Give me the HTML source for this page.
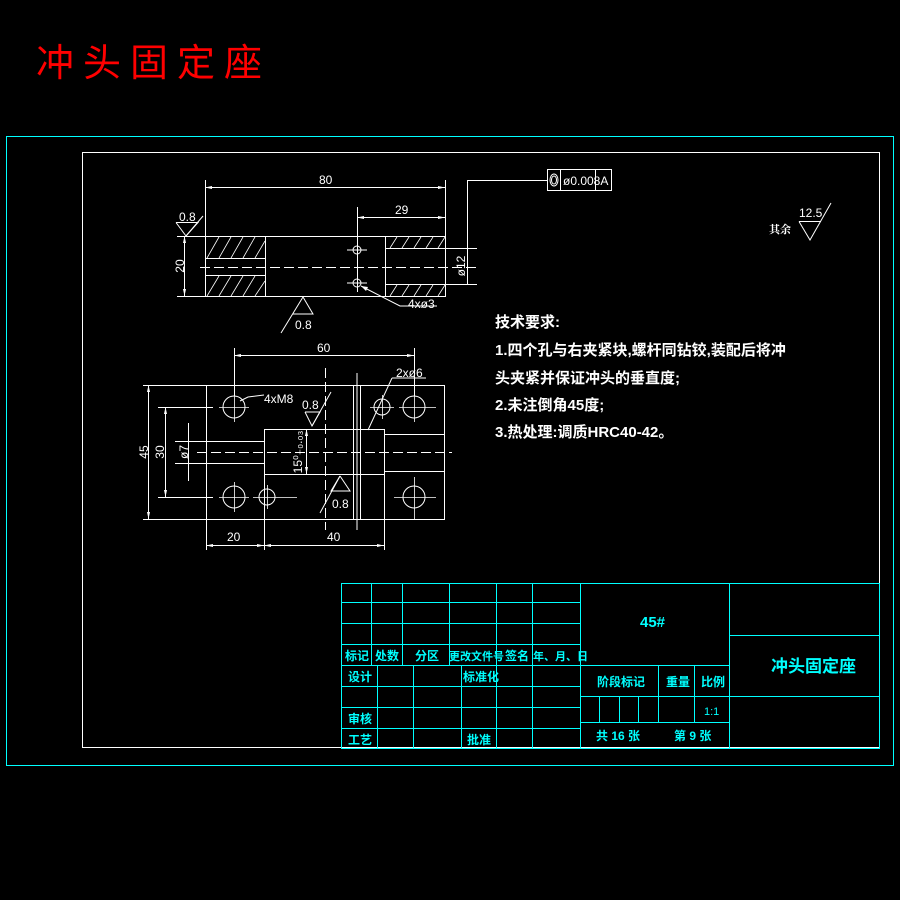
<!DOCTYPE html>
<html><head><meta charset="utf-8"><style>
html,body{margin:0;padding:0;background:#000;}
svg{display:block;}
text{font-family:"Liberation Sans","Noto Sans CJK SC",sans-serif;}
.w{stroke:#fff;stroke-width:1;fill:none;}
.c{stroke:#0ff;stroke-width:1;fill:none;}
.t{fill:#fff;font-size:12px;}
.ct{fill:#0ff;font-family:"Liberation Serif","Noto Serif CJK SC",serif;font-weight:bold;font-size:12px;}
</style></head><body>
<svg width="900" height="900" viewBox="0 0 900 900" xmlns="http://www.w3.org/2000/svg">
<text x="36" y="76" fill="#f00" font-size="38" letter-spacing="9" style="font-family:'Liberation Sans','Noto Sans CJK SC',sans-serif">冲头固定座</text>
<rect x="6.5" y="136.5" width="887" height="629" class="c"/>
<rect x="82.5" y="152.5" width="797" height="595" class="w" stroke-width="0.8"/>

<!-- TOP VIEW -->
<g class="w">
<rect x="205.5" y="236.5" width="240" height="60"/>
<line x1="265.5" y1="236" x2="265.5" y2="297"/>
<line x1="385.5" y1="236" x2="385.5" y2="297"/>
<line x1="205" y1="258.5" x2="265" y2="258.5"/>
<line x1="205" y1="275.5" x2="265" y2="275.5"/>
<line x1="385" y1="248.5" x2="477" y2="248.5"/>
<line x1="385" y1="284.5" x2="477" y2="284.5"/>
<line x1="200" y1="267.5" x2="477" y2="267.5" stroke-dasharray="10,4"/>
<!-- hatches -->
<g stroke-width="0.8">
<path d="M207,258 L219,237 M219,258 L231,237 M231,258 L243,237 M243,258 L255,237 M255,258 L265,241"/>
<path d="M207,296 L219,276 M219,296 L231,276 M231,296 L243,276 M243,296 L255,276 M255,296 L265,281"/>
<path d="M390,248 L397,237 M402,248 L409,237 M414,248 L421,237 M426,248 L433,237 M438,248 L445,237"/>
<path d="M390,296 L397,285 M402,296 L409,285 M414,296 L421,285 M426,296 L433,285 M438,296 L445,285"/>
</g>
<circle cx="357" cy="250" r="4"/><circle cx="357" cy="283" r="4"/>
<line x1="347" y1="250" x2="367" y2="250"/><line x1="347" y1="283" x2="367" y2="283"/>
<line x1="357.5" y1="207" x2="357.5" y2="292"/>
<!-- 80 -->
<line x1="205.5" y1="180" x2="205.5" y2="236"/><line x1="445.5" y1="180" x2="445.5" y2="236"/>
<line x1="205" y1="187.5" x2="445" y2="187.5"/>
<line x1="357" y1="217.5" x2="445" y2="217.5"/>
<!-- 20 -->
<line x1="177" y1="236.5" x2="205" y2="236.5"/><line x1="177" y1="296.5" x2="205" y2="296.5"/>
<line x1="184.5" y1="236" x2="184.5" y2="296"/>
<!-- phi12 -->
<line x1="467.5" y1="181" x2="467.5" y2="284"/>
<polyline points="467.5,181 467.5,180.5 547,180.5"/>
<!-- 0.8 top-left -->
<polyline points="176,222.5 198,222.5 186,236 176,222.5"/>
<line x1="186" y1="236" x2="203" y2="216"/>
<line x1="176" y1="222.5" x2="198" y2="222.5"/>
<!-- bottom 0.8 -->
<polyline points="303,297 313,314 293,314"/>
<line x1="303" y1="297" x2="281" y2="333"/>
<!-- 4x03 leader -->
<polyline points="361,286 400,306 437,306"/>
<!-- fcf box -->
<rect x="547.5" y="169.5" width="64" height="21"/>
<line x1="560.5" y1="169" x2="560.5" y2="191"/><line x1="595.5" y1="169" x2="595.5" y2="191"/>
<ellipse cx="554" cy="180" rx="4" ry="6"/><ellipse cx="554" cy="180" rx="2.5" ry="4"/>
<!-- 12.5 -->
<line x1="799" y1="221.5" x2="821" y2="221.5"/>
<polyline points="799,221.5 810,240 831,203"/>
</g>
<g fill="#fff">
<polygon points="205,187.5 212,186 212,189"/><polygon points="445,187.5 438,186 438,189"/>
<polygon points="357,217.5 364,216 364,219"/><polygon points="445,217.5 438,216 438,219"/>
<polygon points="184.5,236 183,243 186,243"/><polygon points="184.5,296 183,289 186,289"/>
<polygon points="361,286 368,287 366,291"/>
</g>
<text class="t" x="319" y="184">80</text>
<text class="t" x="395" y="214">29</text>
<text class="t" x="179" y="221" font-size="11">0.8</text>
<text class="t" x="295" y="329" font-size="11">0.8</text>
<text class="t" x="408" y="308" font-size="11">4xø3</text>
<text class="t" x="180" y="266" font-size="11" transform="rotate(-90 180 266)" text-anchor="middle" dy="4">20</text>
<text class="t" x="461" y="266" font-size="11" transform="rotate(-90 461 266)" text-anchor="middle" dy="4">ø12</text>
<text class="t" x="563" y="185" font-size="11">ø0.008A</text>
<text class="t" x="799" y="217" font-size="11">12.5</text>
<text x="769" y="233" fill="#fff" font-size="11" style="font-family:'Liberation Serif','Noto Serif CJK SC',serif;font-weight:bold">其余</text>

<!-- FRONT VIEW -->
<g class="w">
<rect x="206.5" y="385.5" width="238" height="134"/>
<rect x="264.5" y="429.5" width="120" height="45"/>
<line x1="264.5" y1="474" x2="264.5" y2="550"/>
<line x1="384.5" y1="474" x2="384.5" y2="550"/>
<line x1="384" y1="434.5" x2="444" y2="434.5"/>
<line x1="384" y1="471.5" x2="444" y2="471.5"/>
<rect x="353.5" y="385.5" width="7" height="134"/>
<line x1="357" y1="373" x2="357" y2="530"/>
<circle cx="234" cy="407" r="11"/><circle cx="234" cy="497" r="11"/>
<circle cx="414" cy="407" r="11"/><circle cx="414" cy="497" r="11"/>
<circle cx="382" cy="407" r="8"/><circle cx="267" cy="497" r="8"/>
<g stroke-width="0.8">
<line x1="219" y1="407.5" x2="249" y2="407.5"/><line x1="234.5" y1="392" x2="234.5" y2="422"/>
<line x1="219" y1="497.5" x2="249" y2="497.5"/><line x1="234.5" y1="482" x2="234.5" y2="512"/>
<line x1="399" y1="407.5" x2="436" y2="407.5"/><line x1="414.5" y1="392" x2="414.5" y2="422"/>
<line x1="394" y1="497.5" x2="436" y2="497.5"/><line x1="414.5" y1="477" x2="414.5" y2="519"/>
<line x1="370" y1="407.5" x2="394" y2="407.5"/><line x1="382.5" y1="395" x2="382.5" y2="419"/>
<line x1="253" y1="497.5" x2="297" y2="497.5"/><line x1="267.5" y1="485" x2="267.5" y2="509"/>
</g>
<line x1="197" y1="452.5" x2="452" y2="452.5" stroke-dasharray="10,4"/>
<line x1="325.5" y1="368" x2="325.5" y2="530" stroke-dasharray="10,4"/>
<line x1="175" y1="441.5" x2="264" y2="441.5"/><line x1="175" y1="463.5" x2="264" y2="463.5"/>
<line x1="188.5" y1="423" x2="188.5" y2="481"/>
<line x1="143" y1="385.5" x2="206" y2="385.5"/><line x1="143" y1="519.5" x2="206" y2="519.5"/>
<line x1="148.5" y1="385" x2="148.5" y2="519"/>
<line x1="158" y1="407.5" x2="213" y2="407.5"/><line x1="158" y1="497.5" x2="213" y2="497.5"/>
<line x1="165.5" y1="407" x2="165.5" y2="497"/>
<line x1="234.5" y1="348" x2="234.5" y2="396"/><line x1="414.5" y1="348" x2="414.5" y2="396"/>
<line x1="234" y1="355.5" x2="414" y2="355.5"/>
<line x1="206.5" y1="519" x2="206.5" y2="550"/>
<line x1="206" y1="545.5" x2="384" y2="545.5"/>
<line x1="306.5" y1="429" x2="306.5" y2="474"/>
<polyline points="264,395 248,397 240,401"/>
<polyline points="305,412 320,412 312,426 305,412"/><line x1="312" y1="426" x2="331" y2="392"/>
<polyline points="340,476 350,491 331,491 340,476"/><line x1="340" y1="476" x2="320" y2="513"/>
<line x1="368" y1="430" x2="392" y2="378"/><line x1="392" y1="378" x2="426" y2="378"/>
</g>
<g fill="#fff">
<polygon points="234,355.5 241,354 241,357"/><polygon points="414,355.5 407,354 407,357"/>
<polygon points="148.5,385 147,392 150,392"/><polygon points="148.5,519 147,512 150,512"/>
<polygon points="165.5,407 164,414 167,414"/><polygon points="165.5,497 164,490 167,490"/>
<polygon points="206,545.5 213,544 213,547"/><polygon points="264,545.5 257,544 257,547"/>
<polygon points="264,545.5 271,544 271,547"/><polygon points="384,545.5 377,544 377,547"/>
<polygon points="306.5,429 305,436 308,436"/><polygon points="306.5,474 305,467 308,467"/>
</g>
<text class="t" x="317" y="352">60</text>
<text class="t" x="264" y="403" font-size="11">4xM8</text>
<text class="t" x="396" y="377" font-size="11">2xø6</text>
<text class="t" x="302" y="409" font-size="11">0.8</text>
<text class="t" x="332" y="508" font-size="11">0.8</text>
<text class="t" x="227" y="541">20</text>
<text class="t" x="327" y="541">40</text>
<text class="t" x="144" y="452" transform="rotate(-90 144 452)" text-anchor="middle" dy="4">45</text>
<text class="t" x="160" y="452" transform="rotate(-90 160 452)" text-anchor="middle" dy="4">30</text>
<text class="t" x="184" y="452" font-size="11" transform="rotate(-90 184 452)" text-anchor="middle" dy="4">ø7</text>
<text class="t" x="298" y="452" font-size="10" transform="rotate(-90 298 452)" text-anchor="middle" dy="4">15⁰₋₀.₀₃</text>

<!-- tech req -->
<g fill="#fff" style="font-family:'Liberation Serif','Noto Serif CJK SC',serif;font-weight:bold" font-size="15">
<text x="495" y="327">技术要求:</text>
<text x="495" y="355">1.四个孔与右夹紧块,螺杆同钻铰,装配后将冲</text>
<text x="495" y="383">头夹紧并保证冲头的垂直度;</text>
<text x="495" y="410">2.未注倒角45度;</text>
<text x="495" y="437">3.热处理:调质HRC40-42。</text>
</g>

<!-- title block -->
<g class="c">
<rect x="341.5" y="583.5" width="538" height="165"/>
<line x1="341" y1="602.5" x2="580" y2="602.5"/>
<line x1="341" y1="623.5" x2="580" y2="623.5"/>
<line x1="341" y1="644.5" x2="580" y2="644.5"/>
<line x1="341" y1="665.5" x2="730" y2="665.5"/>
<line x1="341" y1="686.5" x2="580" y2="686.5"/>
<line x1="341" y1="707.5" x2="580" y2="707.5"/>
<line x1="341" y1="728.5" x2="580" y2="728.5"/>
<line x1="371.5" y1="583" x2="371.5" y2="665"/>
<line x1="402.5" y1="583" x2="402.5" y2="665"/>
<line x1="449.5" y1="583" x2="449.5" y2="665"/>
<line x1="496.5" y1="583" x2="496.5" y2="749"/>
<line x1="532.5" y1="583" x2="532.5" y2="749"/>
<line x1="377.5" y1="665" x2="377.5" y2="749"/>
<line x1="413.5" y1="665" x2="413.5" y2="749"/>
<line x1="461.5" y1="665" x2="461.5" y2="749"/>
<line x1="580.5" y1="583" x2="580.5" y2="749"/>
<line x1="729.5" y1="583" x2="729.5" y2="749"/>
<line x1="729" y1="635.5" x2="880" y2="635.5"/>
<line x1="580" y1="696.5" x2="880" y2="696.5"/>
<line x1="580" y1="722.5" x2="729" y2="722.5"/>
<line x1="599.5" y1="696" x2="599.5" y2="722"/>
<line x1="619.5" y1="696" x2="619.5" y2="722"/>
<line x1="638.5" y1="696" x2="638.5" y2="722"/>
<line x1="658.5" y1="665" x2="658.5" y2="722"/>
<line x1="694.5" y1="665" x2="694.5" y2="722"/>
</g>
<g class="ct">
<text x="345" y="660">标记</text><text x="375" y="660">处数</text><text x="415" y="660">分区</text>
<text x="449" y="660" font-size="11">更改文件号</text><text x="505" y="660">签名</text><text x="533" y="660" font-size="11">年、月、日</text>
<text x="348" y="681">设计</text><text x="463" y="681">标准化</text>
<text x="348" y="723">审核</text><text x="348" y="744">工艺</text><text x="467" y="744">批准</text>
<text x="640" y="627" font-size="15">45#</text>
<text x="597" y="686">阶段标记</text><text x="666" y="686">重量</text><text x="701" y="686">比例</text>
<text x="704" y="715" font-weight="normal" font-size="11">1:1</text>
<text x="596" y="740">共 16 张</text><text x="674" y="740">第 9 张</text>
<text x="771" y="672" font-size="17">冲头固定座</text>
</g>
</svg>
</body></html>
